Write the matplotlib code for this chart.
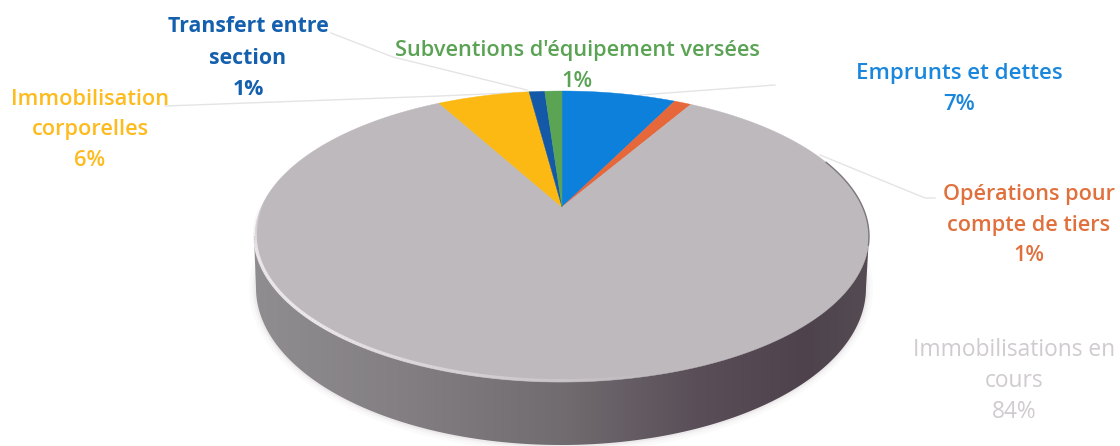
import numpy as np
import matplotlib
matplotlib.use("Agg")
from matplotlib import pyplot as plt
from matplotlib.patches import Polygon
from matplotlib.colors import LinearSegmentedColormap
from matplotlib.collections import LineCollection

# clockwise from 12 o'clock, values are % (decimals)
CATEGORIES = ["Emprunts et dettes", "Opérations pour\ncompte de tiers", "Immobilisations en\ncours",
              "Immobilisation\ncorporelles", "Transfert entre\nsection", "Subventions d'équipement versées"]
VALUES = [7.3, 1.1, 83.6, 5.9, 1.0, 1.1]
COLORS = ["#0d80dc", "#e5673a", "#bdb9bd", "#fdb913", "#1459a8", "#5ba454"]
TEXT_COLORS = ["#1a86dc", "#e0703c", "#cfcbcf", "#fdbb1e", "#1560ae", "#5ba354"]
WEIGHTS = ["semibold", "semibold", "normal", "semibold", "bold", "semibold"]
FONT_SIZES = [16, 15.6, 16.4, 15.7, 15.3, 15.7]
LINE_SPACINGS = [1.58, 1.62, 1.41, 1.62, 1.65, 1.62]
LABEL_POS = [(959, 89), (1029, 225), (1014, 381), (90, 130), (248, 58), (577, 66)]

# pie projection, in pixels
CX, CY = 562, 207
A, B, K = 300.6, 139.5, 0.2027


def project(angle):
    # angle in radians clockwise from the top, flat circle -> perspective picture
    u, v = np.sin(angle), np.cos(angle)
    d = 1 + K * v
    return CX + A * u / d, CY - B * v / d


fig = plt.figure(figsize=(11.2, 4.46), dpi=100)
ax = fig.add_axes([0, 0, 1, 1])
ax.set_xlim(0, 1120)
ax.set_ylim(446, 0)
ax.axis("off")

# leader lines
leaders = [[(331, 33), (393, 57), (527, 90)], [(165, 106), (440, 96), (530, 92)],
           [(775, 85), (640, 95)], [(935, 198), (925, 198), (820, 155)]]
for pts in leaders:
    ax.plot(*zip(*pts), color="#e4e4e4", lw=1, zorder=1)

# side of the disc
t = np.linspace(0, 2 * np.pi, 400)
for grow, alpha in [(7, 0.03), (4, 0.05), (2, 0.08)]:
    ax.add_patch(Polygon(np.c_[561 + (305 + grow) * np.cos(t), 288 + (157 + grow) * np.sin(t)],
                         fc="#8a7f85", ec="none", alpha=alpha, zorder=1.5))

low = np.linspace(0, np.pi, 200)
side = np.r_[[[869, 236]], [[866, 288]], np.c_[561 + 305 * np.cos(low), 288 + 157 * np.sin(low)], [[256, 288]], [[254, 236]]]
poly = Polygon(side, fc="none", ec="none", zorder=2)
ax.add_patch(poly)
stops = [(0, "#908d91"), (0.25, "#827e82"), (0.5, "#716c70"), (0.72, "#5a4f58"), (0.9, "#4e434c"), (1, "#554b53")]
cmap = LinearSegmentedColormap.from_list("side", stops)
grad = ax.imshow(np.linspace(0, 1, 512)[None, :], cmap=cmap, extent=[254, 869, 446, 230],
                 aspect="auto", zorder=2)
grad.set_clip_path(poly)
ax.set_xlim(0, 1120)
ax.set_ylim(446, 0)

# slices on the top face
edges = np.cumsum([0] + VALUES) / sum(VALUES) * 2 * np.pi
for i, color in enumerate(COLORS):
    arc = np.linspace(edges[i], edges[i + 1], max(4, int(VALUES[i] * 6)))
    x, y = project(arc)
    pts = np.r_[[[CX, CY]], np.c_[x, y]]
    ax.add_patch(Polygon(pts, fc=color, ec=color, lw=0.3, zorder=3))

# light rim on the front left, fades in at the left and out towards the bottom
rim = np.radians(np.linspace(272, 165, 140))
rx, ry = project(rim)
pts = np.c_[rx, ry - 1.2]
segs = np.stack([pts[:-1], pts[1:]], axis=1)
fade = np.clip(np.linspace(1.8, 0, len(segs)), 0, 1) * np.clip(np.linspace(0, 6, len(segs)), 0, 1)
rgba = np.c_[np.tile([0.93, 0.91, 0.93], (len(segs), 1)), fade]
ax.add_collection(LineCollection(segs, colors=rgba, linewidths=2.5, zorder=4))
# dark hairline on the right edge
ex, ey = project(np.radians(np.linspace(70, 105, 60)))
ax.plot(ex, ey, color="#7d767c", lw=1, zorder=4)

# labels
plt.rcParams["font.family"] = ["Open Sans", "DejaVu Sans"]
for name, v, c, w, fs, ls, (lx, ly) in zip(CATEGORIES, VALUES, TEXT_COLORS, WEIGHTS, FONT_SIZES, LINE_SPACINGS, LABEL_POS):
    ax.text(lx, ly, f"{name}\n{v:.0f}%", color=c, fontweight=w, fontsize=fs, ha="center", va="center",
            linespacing=ls, zorder=5)

fig.savefig("out.png", dpi=100)
